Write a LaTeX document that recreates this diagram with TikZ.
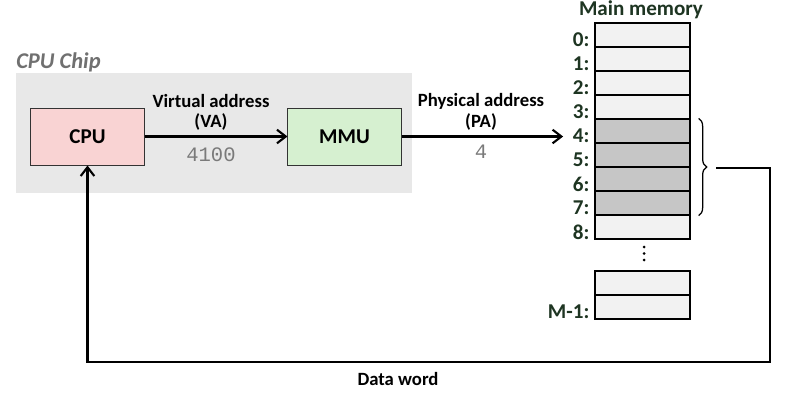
\documentclass[tikz,border=0pt]{standalone}
\usepackage{fontspec}
\setmainfont{Carlito}
\newfontfamily\codefont{Liberation Mono}
\usetikzlibrary{positioning,arrows.meta,decorations.pathreplacing}

\definecolor{chipgray}{HTML}{E8E8E8}
\definecolor{chiptext}{HTML}{707070}
\definecolor{cpupink}{HTML}{F9D3D3}
\definecolor{mmugreen}{HTML}{D6F0D0}
\definecolor{celllight}{HTML}{F2F2F2}
\definecolor{cellgray}{HTML}{C6C6C6}
\definecolor{memgreen}{HTML}{1E3522}
\definecolor{numgray}{HTML}{7A7A7A}

\tikzset{
  unit/.style={draw=black!80, line width=0.7pt, minimum width=2.825cm, minimum height=1.425cm, font=\bfseries\fontsize{15}{18}\selectfont},
  cell/.style={draw=black, line width=0.9pt, minimum width=2.375cm, minimum height=0.6cm, inner sep=0pt},
  memlbl/.style={font=\bfseries\fontsize{15}{18}\selectfont, text=memgreen, anchor=east, inner sep=1pt},
  lbl/.style={font=\bfseries\fontsize{13.3}{16}\selectfont, inner sep=0pt},
  num/.style={font=\codefont\fontsize{14.6}{17}\selectfont, text=numgray, inner sep=0pt},
  arr/.style={-{Straight Barb[length=2.2mm,width=3.4mm]}, line width=1.5pt},
}

\begin{document}
\begin{tikzpicture}[x=0.025cm,y=-0.025cm]
  \useasboundingbox (0,0) rectangle (800,403);
  \fill[chipgray] (16,73) rectangle (412,193);
  \node[font=\bfseries\itshape\fontsize{16}{19}\selectfont, text=chiptext, anchor=west, inner sep=0pt] (chiplbl) at (16,62) {CPU Chip};
  \node[unit, fill=cpupink] (cpu) at (87.5,136.5) {CPU};
  \node[unit, fill=mmugreen] (mmu) at (344.5,136.5) {MMU};

  \node[font=\bfseries\fontsize{15}{18}\selectfont, text=memgreen, inner sep=0pt] (memtitle) at (641,10) {Main memory};
  \foreach \i/\f in {0/celllight,1/celllight,2/celllight,3/celllight,4/cellgray,5/cellgray,6/cellgray,7/cellgray,8/celllight} {
    \pgfmathsetmacro\yy{35+24*\i}
    \node[cell, fill=\f] (c\i) at (642.5,\yy) {};
    \node[memlbl] (l\i) at (591,\yy+5) {\i:};
  }
  \foreach \yy in {247,253.5,260}
    \fill (644,\yy) circle (1.5);
  \node[cell, fill=celllight] (cm2) at (642.5,283) {};
  \node[cell, fill=celllight] (cm1) at (642.5,307) {};
  \node[memlbl] (lm1) at (591,312) {M-1:};

  \draw[arr] (cpu) -- (mmu);
  \node[lbl] (va1) at (211,101) {Virtual address};
  \node[lbl] (va2) at (211,122) {(VA)};
  \node[num] (va3) at (211,155) {4100};

  \draw[arr] (mmu) -- ([xshift=-0.2cm]mmu -| l4.west);
  \node[lbl] (pa1) at (481,101) {Physical address};
  \node[lbl] (pa2) at (481,122) {(PA)};
  \node[num] (pa3) at (481,152) {4};

  \draw[line width=0.9pt, decorate, decoration={brace, amplitude=0.2cm}] (c4.north east) ++(8,0) coordinate (bt) -- (c7.south east -| bt) coordinate (bb);
  \coordinate (bx) at (716,168);
  \coordinate (corner) at (770,362);
  \draw[arr] (bx) -| (corner) -| (cpu.south);
  \node[lbl] (dw) at (398,379) {Data word};
\end{tikzpicture}
\end{document}
